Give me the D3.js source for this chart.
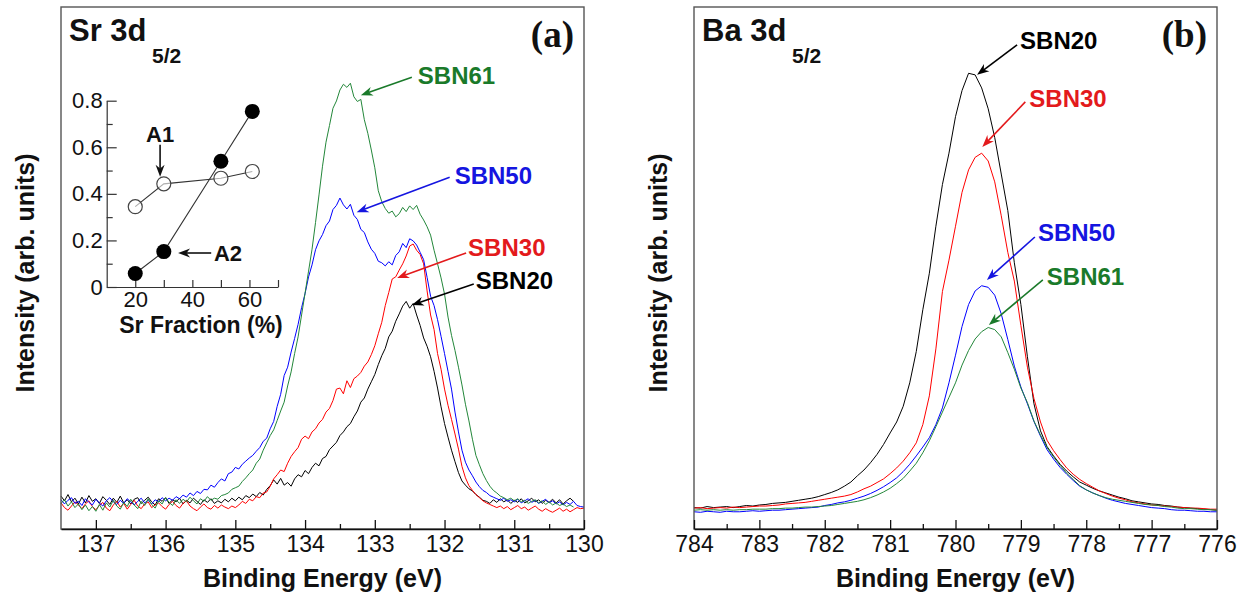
<!DOCTYPE html>
<html lang="en">
<head>
<meta charset="UTF-8">
<title>Sr 3d / Ba 3d spectra</title>
<style>
  body { margin: 0; background: #fff; }
  svg { display: block; font-family: "Liberation Sans", Arial, sans-serif; }
</style>
<script src="https://d3js.org/d3.v7.min.js"></script>
</head>
<body>
<svg width="1244" height="596"></svg>
<script>
// ---- data (intensity in arb. units) ----
// Sr 3d5/2 spectra, energy grid 137.5 -> 130.0 eV, step 0.05
const srEnergy = d3.range(151).map(i => +(137.5 - i * 0.05).toFixed(2));
const srSBN20 = [
  6.3, 5.4, 6.6, 5.2, 5.9, 4.8, 6.1, 5.0, 6.4, 5.3,
  5.8, 4.9, 6.2, 5.5, 4.7, 5.9, 5.1, 6.3, 5.0, 5.6,
  4.8, 5.7, 6.0, 4.9, 5.5, 6.1, 5.2, 4.6, 5.8, 5.3,
  6.0, 4.9, 5.6, 5.2, 5.9, 4.8, 5.5, 5.0, 5.9, 5.3,
  4.7, 5.6, 5.1, 5.8, 4.9, 5.4, 5.0, 5.7, 5.2, 5.9,
  5.4, 6.1, 5.6, 6.4, 6.0, 6.7, 6.2, 7.0, 6.5, 7.6,
  8.3, 9.4, 8.6, 9.7, 8.4, 8.9, 8.2, 9.6, 10.4, 10.0,
  11.2, 10.6, 11.8, 12.6, 12.1, 13.5, 13.9, 15.2, 15.9, 16.6,
  17.9, 18.6, 19.6, 20.2, 21.5, 22.6, 24.3, 25.1, 26.8, 28.2,
  29.6, 31.5, 33.2, 34.6, 36.8, 37.9, 39.8, 41.2, 42.7, 43.6,
  42.3, 43.2, 41.0, 39.0, 36.6, 35.0, 33.0, 30.2, 27.0, 23.4,
  20.2, 17.6, 15.1, 12.9, 10.8, 9.2, 8.4, 7.7, 7.3, 6.6,
  6.1, 5.5, 5.3, 4.9, 5.6, 5.1, 5.8, 5.2, 5.6, 4.9,
  5.5, 5.1, 5.8, 5.0, 5.4, 5.9, 5.2, 5.6, 4.9, 5.5,
  5.1, 5.7, 5.0, 5.6, 4.8, 5.4, 5.9, 5.3, null, null,
  null
];
const srSBN30 = [
  5.0, 4.1, 3.6, 4.4, 5.2, 4.6, 3.9, 4.8, 5.4, 4.3,
  3.7, 4.5, 5.1, 4.0, 3.5, 4.6, 5.3, 4.2, 4.9, 3.8,
  4.7, 5.5, 4.4, 3.9, 4.8, 5.2, 4.1, 4.6, 5.0, 4.3,
  3.8, 4.7, 5.3, 4.5, 4.0, 4.9, 5.4, 4.4, 3.9, 3.5,
  4.2, 4.8, 4.1, 3.8, 4.5, 4.0, 4.6, 4.2, 3.9, 4.4,
  4.1, 4.6, 5.3, 4.9, 5.7, 5.4, 6.2, 6.0, 6.9, 7.1,
  8.2, 9.6, 10.4, 11.3, 11.0, 12.6, 13.9, 14.8, 15.6, 17.2,
  17.8, 17.3, 18.6, 19.2, 20.3, 21.0, 22.4, 23.1, 24.6, 26.8,
  27.0, 25.9, 28.4, 27.1, 28.8, 29.3, 30.0, 31.2, 32.0, 33.4,
  35.1, 37.4, 39.6, 42.8, 45.3, 47.9, 48.3, 49.6, 50.8, 52.3,
  54.2, 54.6, 53.4, 52.6, 50.8, 45.6, 41.0, 38.2, 33.6, 30.6,
  26.8, 23.7, 21.0, 18.2, 15.3, 12.0, 9.8, 8.3, 7.4, 6.6,
  6.0, 5.4, 5.0, 4.7, 4.4, 4.1, 4.4, 3.9, 4.3, 3.7,
  4.1, 4.5, 3.9, 4.2, 3.6, 4.0, 4.4, 3.8, 3.4, 3.9,
  3.5, 3.2, 3.6, 4.0, 3.4, 3.8, 3.3, 3.7, 4.1, 3.9,
  4.0
];
const srSBN50 = [
  5.6, 4.8, 5.5, 6.0, 4.9, 5.3, 4.5, 5.8, 5.1, 4.6,
  5.7, 5.0, 4.4, 5.4, 6.0, 5.2, 4.7, 5.5, 4.9, 5.8,
  5.2, 4.6, 5.3, 5.9, 5.0, 5.5, 4.8, 5.6, 5.2, 6.0,
  5.4, 5.9, 5.5, 6.2, 5.8, 6.5, 6.1, 6.9, 6.4, 7.2,
  6.8, 7.6, 7.5, 8.4, 8.0, 8.9, 9.6, 9.2, 10.6, 10.9,
  11.8, 11.5, 12.4, 13.0, 13.6, 14.1, 14.9, 15.6, 16.8, 17.4,
  19.2, 20.6, 23.5, 25.8, 29.4, 31.0, 33.9, 36.5, 39.2, 42.4,
  45.1, 48.3, 50.6, 53.5, 55.2, 56.4, 58.1, 59.0, 61.2, 62.0,
  63.4, 62.1, 61.3, 62.2, 60.1, 59.3, 57.4, 56.8, 55.0, 53.6,
  52.8, 51.3, 51.0, 50.4, 51.2, 50.6, 52.4, 53.1, 54.7, 53.9,
  55.6, 55.2, 54.4, 53.0, 51.6, 48.2, 44.6, 42.8, 40.1, 36.9,
  33.6, 30.2, 26.8, 22.4, 18.6, 15.1, 12.8, 11.3, 10.2, 9.0,
  8.1, 7.4, 7.0, 6.4, 6.1, 5.8, 5.5, 5.9, 5.3, 5.6,
  5.2, 5.7, 5.0, 5.4, 5.8, 5.1, 5.5, 4.9, 5.3, 5.7,
  5.0, 5.4, 4.8, 5.2, 4.6, 5.1, 4.7, 5.3, 4.5, 4.3,
  4.2
];
const srSBN61 = [
  4.9, 5.6, 4.4, 5.2, 4.1, 4.8, 3.7, 4.6, 3.5, 4.3,
  3.4, 4.7, 3.6, 5.0, 4.2, 5.5, 4.4, 3.8, 5.1, 4.3,
  5.7, 4.6, 3.9, 5.3, 4.5, 5.8, 4.7, 4.0, 5.4, 4.8,
  6.0, 5.1, 4.5, 5.6, 4.9, 5.7, 5.2, 6.1, 5.4, 4.8,
  5.8, 5.3, 6.2, 5.5, 5.9, 5.7, 6.4, 6.6, 6.9, 7.6,
  7.9, 8.2, 9.1, 9.8, 10.6, 11.3, 12.6, 13.4, 15.1, 16.5,
  17.9, 19.0, 20.8, 22.6, 24.3, 27.4, 30.1, 33.6, 36.8, 41.0,
  45.2, 49.4, 53.6, 58.7, 64.0, 69.5, 74.1, 77.3, 80.6, 82.0,
  84.1, 85.2, 84.6, 85.4, 82.8, 81.9, 82.3, 78.4, 75.8, 72.6,
  69.2, 64.8, 62.7, 61.4, 60.5, 60.9, 59.8, 60.4, 61.6, 60.8,
  61.9, 61.2, 62.0, 60.3, 59.2, 57.9, 56.3, 53.4, 50.8, 48.1,
  45.0, 40.6, 37.1, 34.2, 31.0, 27.6, 23.9, 20.7, 17.2, 14.1,
  12.3, 10.6, 9.3, 8.2, 7.4, 6.9, 6.3, 6.0, 5.6, 5.9,
  5.4, 5.8, 5.2, 5.5, 4.9, 5.3, 5.6, 5.0, 5.4, 4.7,
  5.2, 4.6, 5.0, 4.5, 4.8, 4.3, 4.6, 4.2, null, null,
  null
];

// Ba 3d5/2 spectra, energy grid 784.0 -> 776.0 eV, step 0.1
const baEnergy = d3.range(81).map(i => +(784 - i * 0.1).toFixed(1));
const baSBN20 = [
  4.1, 4.0, 4.3, 4.1, 4.2, 4.3, 4.1, 4.3, 4.5, 4.4,
  4.6, 4.7, 4.9, 5.0, 5.1, 5.3, 5.5, 5.7, 5.9, 6.2,
  6.6, 7.0, 7.5, 8.2, 9.0, 10.2, 11.3, 12.7, 14.3, 16.2,
  18.4, 20.5, 23.5, 28.0, 34.0, 42.0, 49.0, 58.0, 66.0, 72.0,
  79.0, 84.0, 87.3, 87.0, 84.5, 80.5, 75.0, 68.0, 61.0, 51.0,
  43.0, 33.0, 24.0, 18.8, 15.8, 14.0, 12.4, 11.1, 10.0, 9.0,
  8.4, 7.8, 7.3, 6.9, 6.5, 6.1, 5.8, 5.4, 5.2, 5.0,
  4.8, 4.7, 4.5, 4.4, 4.2, 4.1, 4.0, 3.9, 3.8, 3.7,
  3.6
];
const baSBN30 = [
  4.0, 4.1, 3.9, 4.0, 4.1, 4.0, 4.2, 4.1, 4.2, 4.3,
  4.4, 4.4, 4.5, 4.6, 4.8, 4.9, 5.0, 5.1, 5.3, 5.5,
  5.7, 5.9, 6.1, 6.3, 6.6, 7.1, 7.7, 8.2, 8.9, 9.6,
  10.6, 11.7, 13.0, 14.6, 16.5, 20.0, 25.5, 34.5, 45.5, 51.5,
  58.0, 64.5, 68.8, 71.2, 72.0, 70.5, 66.5, 60.0, 53.0, 47.5,
  39.0, 31.0, 25.0, 20.5, 17.0, 15.0, 13.3, 11.7, 10.5, 9.5,
  8.7, 8.0, 7.3, 6.8, 6.3, 5.9, 5.6, 5.2, 5.0, 4.8,
  4.6, 4.5, 4.4, 4.3, 4.2, 4.1, 4.0, 4.0, 3.9, 3.8,
  3.8
];
const baSBN50 = [
  3.3, 3.2, 3.4, 3.3, 3.2, 3.4, 3.3, 3.3, 3.4, 3.5,
  3.4, 3.5, 3.6, 3.6, 3.7, 3.8, 3.9, 4.0, 4.1, 4.2,
  4.5, 4.7, 5.0, 5.2, 5.5, 5.9, 6.3, 6.8, 7.4, 8.1,
  8.9, 9.8, 11.0, 12.4, 14.0, 15.7, 17.5, 20.0, 23.2, 28.0,
  33.3, 38.8, 43.0, 45.6, 46.6, 46.3, 44.8, 41.2, 36.3, 31.2,
  27.2, 24.0, 20.6, 17.8, 15.2, 13.4, 11.8, 10.5, 9.3, 8.2,
  7.5, 6.9, 6.4, 5.9, 5.5, 5.2, 4.9, 4.7, 4.5, 4.3,
  4.1, 4.0, 3.9, 3.7, 3.6, 3.6, 3.5, 3.4, 3.4, 3.3,
  3.3
];
const baSBN61 = [
  3.6, 3.7, 3.6, 3.7, 3.6, 3.7, 3.6, 3.7, 3.7, 3.8,
  3.8, 3.8, 3.9, 3.9, 4.0, 4.0, 4.1, 4.2, 4.2, 4.3,
  4.4, 4.5, 4.7, 4.9, 5.1, 5.3, 5.6, 6.0, 6.5, 7.1,
  7.8, 8.7, 9.7, 11.1, 12.6, 14.6, 16.9, 19.6, 22.4, 25.2,
  28.0, 31.4, 34.2, 36.4, 37.8, 38.6, 38.2, 36.8, 33.8, 30.6,
  27.0, 24.2, 20.7, 18.0, 15.6, 13.8, 12.2, 10.7, 9.5, 8.3,
  7.5, 6.9, 6.4, 6.0, 5.7, 5.5, 5.3, 5.1, 4.9, 4.7,
  4.6, 4.5, 4.3, 4.2, 4.0, 3.9, 3.9, 3.8, 3.7, 3.7,
  3.6
];

const sampleNames = ["SBN20", "SBN30", "SBN50", "SBN61"];

// inset: peak areas vs Sr fraction
const insetFraction = [20, 30, 50, 61];
const insetA1 = [0.345, 0.443, 0.467, 0.496];
const insetA2 = [0.058, 0.152, 0.540, 0.754];
const insetXTicks = [20, 30, 40, 50, 60, 70];
const insetXLabels = [20, 40, 60];
const insetYTicks = [0, 0.2, 0.4, 0.6, 0.8];
const insetYMinor = [0.1, 0.3, 0.5, 0.7];

const srTicks = [137, 136, 135, 134, 133, 132, 131, 130];
const srMinor = [136.5, 135.5, 134.5, 133.5, 132.5, 131.5, 130.5];
const baTicks = [784, 783, 782, 781, 780, 779, 778, 777, 776];
const baMinor = [783.5, 782.5, 781.5, 780.5, 779.5, 778.5, 777.5, 776.5];

// ---- drawing ----
const svg = d3.select("svg");
const lineColor = { SBN20: "#000000", SBN30: "#ff0000", SBN50: "#0000ff", SBN61: "#23873a" };
const textColor = { SBN20: "#000000", SBN30: "#e31a1c", SBN50: "#1515e0", SBN61: "#1a7a2a" };

const plotTop = 7, plotBottom = 529;
const y = d3.scaleLinear().domain([0, 100]).range([plotBottom, plotTop]);

function arrow(g, x1, y1, x2, y2, color) {
    const a = Math.atan2(y2 - y1, x2 - x1);
    const L = 12, W = 4.5;
    const c = Math.cos(a), s = Math.sin(a);
    const bx = x2 - L * c, by = y2 - L * s;
    g.append("line")
        .attr("x1", x1).attr("y1", y1)
        .attr("x2", x2 - 8 * c).attr("y2", y2 - 8 * s)
        .attr("stroke", color).attr("stroke-width", 1.6);
    g.append("path")
        .attr("d", `M${x2},${y2}L${bx - W * s},${by + W * c}L${x2 - 0.7 * L * c},${y2 - 0.7 * L * s}L${bx + W * s},${by - W * c}Z`)
        .attr("fill", color);
}

function drawPanel(p) {
    const g = svg.append("g");
    const x = d3.scaleLinear().domain(p.domain).range([p.left, p.right]);

    const line = d3.line()
        .defined(d => d[1] != null)
        .x(d => x(d[0]))
        .y(d => y(d[1]));

    p.series.forEach((vals, i) => {
        g.append("path")
            .datum(p.energy.map((e, j) => [e, vals[j]]))
            .attr("fill", "none")
            .attr("stroke", lineColor[sampleNames[i]])
            .attr("stroke-width", 1)
            .attr("d", line);
    });

    // frame
    g.append("rect")
        .attr("x", p.left).attr("y", plotTop)
        .attr("width", p.right - p.left).attr("height", plotBottom - plotTop)
        .attr("fill", "none").attr("stroke", "#555").attr("stroke-width", 1.4);

    // x axis, ticks pointing inward
    const ax = g.append("g")
        .attr("transform", `translate(0,${plotBottom})`)
        .call(d3.axisBottom(x).tickValues(p.ticks).tickSizeInner(-9).tickSizeOuter(0).tickPadding(7).tickFormat(d3.format("d")));
    ax.select(".domain").attr("stroke", "#111").attr("stroke-width", 1.4);
    ax.selectAll(".tick line").attr("stroke", "#111").attr("stroke-width", 1.3);
    ax.selectAll("text").attr("font-size", 23).attr("fill", "#111")
        .attr("font-family", '"Liberation Sans", Arial, sans-serif');

    const mx = g.append("g")
        .attr("transform", `translate(0,${plotBottom})`)
        .call(d3.axisBottom(x).tickValues(p.minor).tickSizeInner(-5).tickSizeOuter(0).tickFormat(""));
    mx.select(".domain").remove();
    mx.selectAll(".tick line").attr("stroke", "#111").attr("stroke-width", 1.3);

    // axis titles
    g.append("text")
        .attr("x", (p.left + p.right) / 2).attr("y", 578)
        .attr("text-anchor", "middle").attr("dominant-baseline", "central")
        .attr("font-size", 25).attr("font-weight", "bold").attr("fill", "#111")
        .text("Binding Energy (eV)");
    g.append("text")
        .attr("transform", `translate(${p.yLabelX},273) rotate(-90)`)
        .attr("text-anchor", "middle").attr("dominant-baseline", "central")
        .attr("font-size", 25).attr("font-weight", "bold").attr("fill", "#111")
        .text("Intensity (arb. units)");

    // panel title with subscript, and panel tag
    g.append("text")
        .attr("x", p.left + 8).attr("y", 41)
        .attr("font-size", 31).attr("font-weight", "bold").attr("fill", "#111")
        .text(p.title);
    g.append("text")
        .attr("x", p.subX).attr("y", 63)
        .attr("font-size", 21).attr("font-weight", "bold").attr("fill", "#111")
        .text("5/2");
    g.append("text")
        .attr("x", p.right - 10).attr("y", 47)
        .attr("text-anchor", "end")
        .attr("font-family", '"Liberation Serif", "Times New Roman", serif')
        .attr("font-size", 37).attr("font-weight", "bold").attr("fill", "#111")
        .text(p.tag);

    // sample labels with arrows
    p.notes.forEach(n => {
        const tx = x(n.e), ty = y(n.v);
        arrow(g, tx + n.ax, ty + n.ay, tx, ty, textColor[n.name]);
        g.append("text")
            .attr("x", tx + n.dx).attr("y", ty + n.dy)
            .attr("dominant-baseline", "central")
            .attr("font-size", 24).attr("font-weight", "bold")
            .attr("fill", textColor[n.name])
            .text(n.name);
    });
}

drawPanel({
    left: 61, right: 584, domain: [137.5, 130],
    energy: srEnergy, series: [srSBN20, srSBN30, srSBN50, srSBN61],
    ticks: srTicks, minor: srMinor,
    title: "Sr 3d", subX: 152, tag: "(a)", yLabelX: 25,
    notes: [
        { name: "SBN61", e: 133.20, v: 83.1, dx: 57, dy: -20, ax: 51, ay: -18 },
        { name: "SBN50", e: 133.26, v: 60.7, dx: 98, dy: -37, ax: 93, ay: -35 },
        { name: "SBN30", e: 132.68, v: 48.1, dx: 71, dy: -30, ax: 69, ay: -25 },
        { name: "SBN20", e: 132.47, v: 42.9, dx: 64, dy: -25, ax: 62, ay: -21 }
    ]
});

drawPanel({
    left: 694, right: 1217, domain: [784, 776],
    energy: baEnergy, series: [baSBN20, baSBN30, baSBN50, baSBN61],
    ticks: baTicks, minor: baMinor,
    title: "Ba 3d", subX: 792, tag: "(b)", yLabelX: 658,
    notes: [
        { name: "SBN20", e: 779.67, v: 87.0, dx: 43, dy: -34, ax: 40, ay: -30 },
        { name: "SBN30", e: 779.59, v: 73.2, dx: 47, dy: -48, ax: 43, ay: -45 },
        { name: "SBN50", e: 779.52, v: 47.7, dx: 51, dy: -48, ax: 48, ay: -43 },
        { name: "SBN61", e: 779.49, v: 39.1, dx: 58, dy: -48, ax: 54, ay: -45 }
    ]
});

// ---- inset in panel (a) ----
const ix = d3.scaleLinear().domain([10, 70]).range([106.7, 278]);
const iy = d3.scaleLinear().domain([0, 0.8]).range([287, 100.7]);
const inset = svg.append("g");

const ixAxis = inset.append("g").attr("transform", "translate(0,287)")
    .call(d3.axisBottom(ix).tickValues(insetXTicks).tickSizeInner(-7).tickSizeOuter(0).tickPadding(4)
        .tickFormat(d => insetXLabels.includes(d) ? d : ""));
const iyAxis = inset.append("g").attr("transform", "translate(106.7,0)")
    .call(d3.axisLeft(iy).tickValues(insetYTicks).tickSizeInner(-10).tickSizeOuter(0).tickPadding(4)
        .tickFormat(d => d === 0 ? "0" : d3.format(".1f")(d)));
const iyMinor = inset.append("g").attr("transform", "translate(106.7,0)")
    .call(d3.axisLeft(iy).tickValues(insetYMinor).tickSizeInner(-6).tickSizeOuter(0).tickFormat(""));
iyMinor.select(".domain").remove();
[ixAxis, iyAxis, iyMinor].forEach(a => {
    a.selectAll(".domain, .tick line").attr("stroke", "#333").attr("stroke-width", 1.2);
    a.selectAll("text").attr("font-size", 22).attr("fill", "#111")
        .attr("font-family", '"Liberation Sans", Arial, sans-serif');
});

inset.append("text")
    .attr("x", 201).attr("y", 325)
    .attr("text-anchor", "middle").attr("dominant-baseline", "central")
    .attr("font-size", 23).attr("font-weight", "bold").attr("fill", "#111")
    .text("Sr Fraction (%)");

const ptLine = d3.line().x(d => ix(d[0])).y(d => iy(d[1]));
[insetA1, insetA2].forEach(vals => {
    inset.append("path")
        .datum(insetFraction.map((f, i) => [f, vals[i]]))
        .attr("fill", "none").attr("stroke", "#333").attr("stroke-width", 1.1)
        .attr("d", ptLine);
});
inset.selectAll("circle.a1")
    .data(insetFraction.map((f, i) => [f, insetA1[i]]))
    .join("circle").attr("class", "a1")
    .attr("cx", d => ix(d[0])).attr("cy", d => iy(d[1])).attr("r", 7)
    .attr("fill", "#fff").attr("fill-opacity", 0.6).attr("stroke", "#444").attr("stroke-width", 1.2);
inset.selectAll("circle.a2")
    .data(insetFraction.map((f, i) => [f, insetA2[i]]))
    .join("circle").attr("class", "a2")
    .attr("cx", d => ix(d[0])).attr("cy", d => iy(d[1])).attr("r", 7.5)
    .attr("fill", "#000");

inset.append("text")
    .attr("x", ix(28.7)).attr("y", iy(0.654))
    .attr("text-anchor", "middle").attr("dominant-baseline", "central")
    .attr("font-size", 22).attr("font-weight", "bold").attr("fill", "#111")
    .text("A1");
arrow(inset, ix(28.7), iy(0.611), ix(28.7), iy(0.473), "#111");
inset.append("text")
    .attr("x", ix(52.5)).attr("y", iy(0.146))
    .attr("text-anchor", "middle").attr("dominant-baseline", "central")
    .attr("font-size", 22).attr("font-weight", "bold").attr("fill", "#111")
    .text("A2");
arrow(inset, ix(46.6), iy(0.146), ix(35.0), iy(0.146), "#111");
</script>
</body>
</html>
